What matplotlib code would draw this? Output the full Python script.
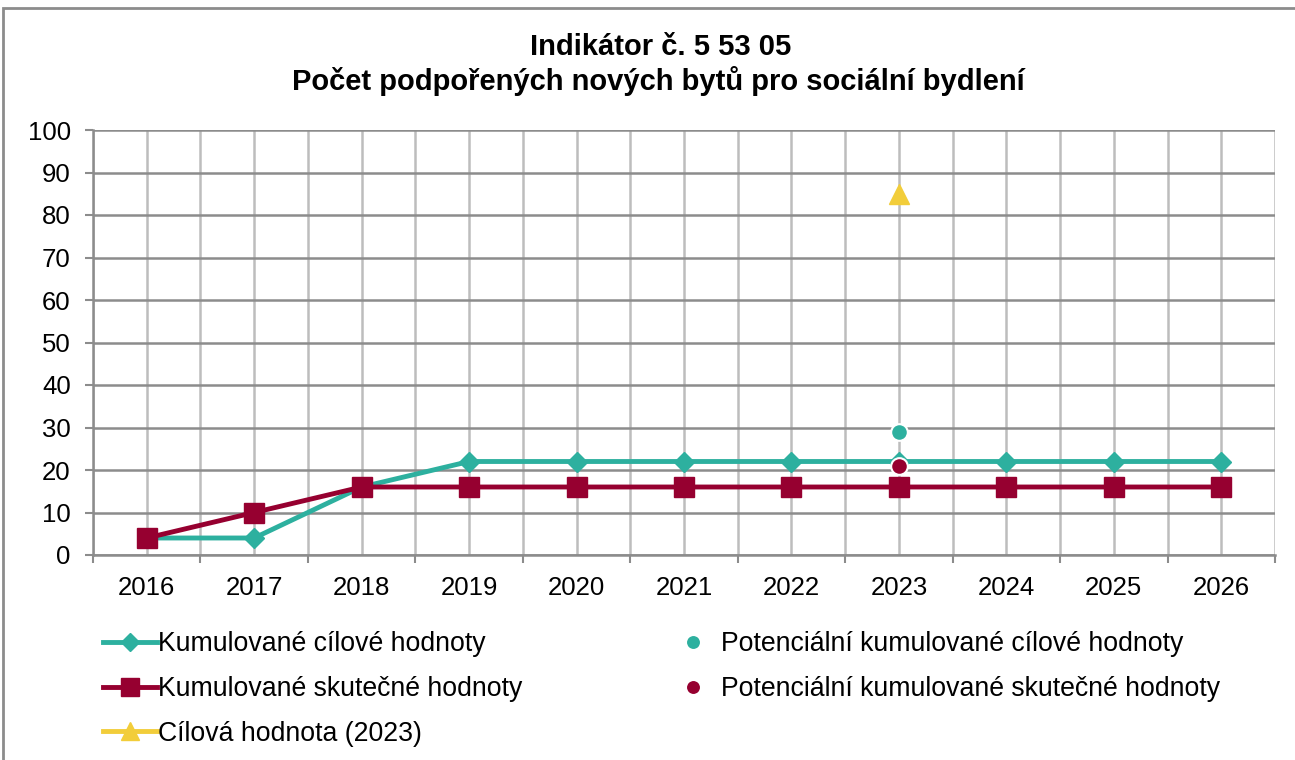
import matplotlib.pyplot as plt
import numpy as np
from matplotlib.patches import Rectangle

plt.rcParams['font.family'] = ['Liberation Sans', 'DejaVu Sans']

years = ['2016', '2017', '2018', '2019', '2020', '2021', '2022', '2023', '2024', '2025', '2026']
cum_target = [4, 4, 16, 22, 22, 22, 22, 22, 22, 22, 22]
cum_actual = [4, 10, 16, 16, 16, 16, 16, 16, 16, 16, 16]
pot_target_year = '2023'
pot_target = 29
pot_actual = 21
goal_year = '2023'
goal_value = 85

TEAL = '#2DB09F'
MAROON = '#960030'
YELLOW = '#F2CD3A'

W, H = 1295, 760
fig = plt.figure(figsize=(W / 100, H / 100), dpi=100)
ax = fig.add_axes([93 / W, 1 - 555 / H, (1275 - 93) / W, (555 - 130) / H])

x = np.arange(len(years))
xi = years.index(pot_target_year)
xg = years.index(goal_year)

ax.plot(x, cum_target, color=TEAL, lw=3.5, marker='D', ms=10, zorder=3,
        label='Kumulované cílové hodnoty')
ax.plot(x, cum_actual, color=MAROON, lw=3.5, marker='s', ms=14, zorder=4,
        label='Kumulované skutečné hodnoty')
ax.plot([xg], [goal_value], color=YELLOW, lw=3.5, marker='^', ms=14, zorder=5,
        label='Cílová hodnota (2023)')
ax.plot([xi], [pot_target], ls='none', color=TEAL, marker='o', ms=12, mec='white',
        mew=1.5, zorder=6, label='Potenciální kumulované cílové hodnoty')
ax.plot([xi], [pot_actual], ls='none', color=MAROON, marker='o', ms=12, mec='white',
        mew=1.5, zorder=6, label='Potenciální kumulované skutečné hodnoty')

ax.set_xlim(-0.5, len(years) - 0.5)
ax.set_ylim(0, 100)
ax.set_yticks(np.arange(0, 101, 10))
ax.set_xticks(x)
ax.set_xticklabels(years)
ax.set_xticks(np.arange(-0.5, len(years), 1), minor=True)
ax.tick_params(axis='x', which='major', length=0, pad=15, labelsize=18.5)
ax.tick_params(axis='x', which='minor', length=6, width=1.5, color='#8c8c8c')
ax.tick_params(axis='y', length=6, width=1.5, color='#8c8c8c', labelsize=18.5, pad=10)
ax.grid(axis='y', color='#8c8c8c', lw=1.8)
ax.grid(axis='x', which='both', color='#bdbdbd', lw=1.8)
ax.set_axisbelow(True)
for s in ['top', 'right']:
    ax.spines[s].set_visible(False)
for s in ['left', 'bottom']:
    ax.spines[s].set_color('#8c8c8c')
    ax.spines[s].set_linewidth(1.8)

fig.text(661 / W, 1 - 47 / H, 'Indikátor č. 5 53 05', ha='center', va='center',
         fontsize=21, fontweight='bold')
fig.text(658 / W, 1 - 81 / H, 'Počet podpořených nových bytů pro sociální bydlení',
         ha='center', va='center', fontsize=21, fontweight='bold')

fig.legend(loc='upper left', bbox_to_anchor=(90 / W, 1 - 618 / H), ncol=2,
           frameon=False, fontsize=19.2, borderpad=0, handlelength=2.0,
           handletextpad=0.05, columnspacing=5.4, labelspacing=0.7, markerscale=0.9)

fig.patches.append(Rectangle((3 / W, -0.1), 1.2, 1 - 8 / H + 0.1, transform=fig.transFigure,
                             fill=False, edgecolor='#8c8c8c', lw=2))

fig.savefig('out.png', dpi=100)
